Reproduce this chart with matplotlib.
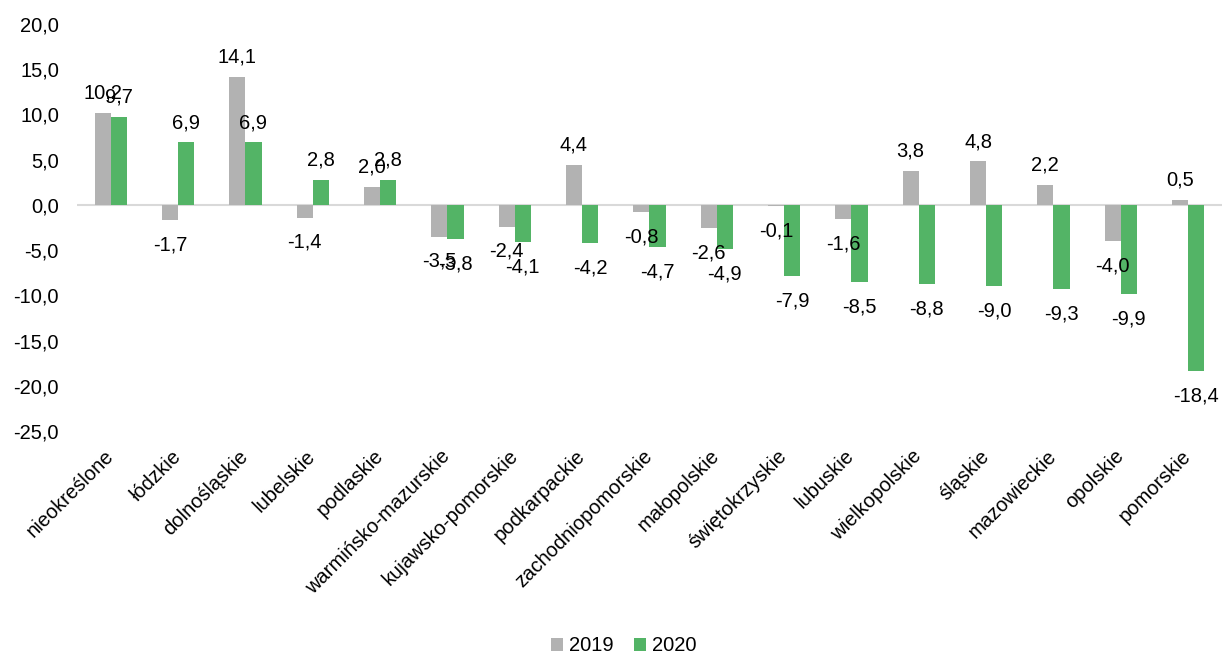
import matplotlib as mpl
mpl.use('agg')
import matplotlib.pyplot as plt
import numpy as np

plt.rcParams['font.family'] = ['Liberation Sans', 'DejaVu Sans']

# Data
regions = ['nieokreślone', 'łódzkie', 'dolnośląskie', 'lubelskie', 'podlaskie',
           'warmińsko-mazurskie', 'kujawsko-pomorskie', 'podkarpackie',
           'zachodniopomorskie', 'małopolskie', 'świętokrzyskie', 'lubuskie',
           'wielkopolskie', 'śląskie', 'mazowieckie', 'opolskie', 'pomorskie']
v2019 = [10.2, -1.7, 14.1, -1.4, 2.0, -3.5, -2.4, 4.4, -0.8, -2.6, -0.1, -1.6,
         3.8, 4.8, 2.2, -4.0, 0.5]
v2020 = [9.7, 6.9, 6.9, 2.8, 2.8, -3.8, -4.1, -4.2, -4.7, -4.9, -7.9, -8.5,
         -8.8, -9.0, -9.3, -9.9, -18.4]
series_names = ['2019', '2020']
yticks = [20, 15, 10, 5, 0, -5, -10, -15, -20, -25]

col19 = '#B2B2B2'
col20 = '#53B466'
fs = 14.5

fig = plt.figure(figsize=(12.23, 6.57), dpi=100)
ax = fig.add_axes([0.063, 0.344, 0.936, 0.6195])

x = np.arange(len(regions))
w = 0.24
b1 = ax.bar(x - w / 2, v2019, w, color=col19, label=series_names[0], zorder=2)
b2 = ax.bar(x + w / 2, v2020, w, color=col20, label=series_names[1], zorder=2)

def fmt(v):
    return f"{v:.1f}".replace('.', ',')

# data labels (outside end, like Excel)
for bars, vals in [(b1, v2019), (b2, v2020)]:
    for rect, v in zip(bars, vals):
        cx = rect.get_x() + rect.get_width() / 2
        if v >= 0:
            ax.annotate(fmt(v), (cx, v), xytext=(0, 7.5), textcoords='offset points',
                        ha='center', va='bottom', fontsize=fs, zorder=3)
        else:
            ax.annotate(fmt(v), (cx, v), xytext=(0, -11), textcoords='offset points',
                        ha='center', va='top', fontsize=fs, zorder=3)

ax.axhline(0, color='#D9D9D9', linewidth=1.5, zorder=1)

ax.set_xlim(-0.5, len(regions) - 0.5)
ax.set_ylim(-25, 20)
ax.set_yticks(yticks)
ax.set_yticklabels([fmt(t) for t in yticks], fontsize=fs)
ax.set_xticks(x)
ax.set_xticklabels(regions, rotation=45, ha='right', va='center',
                   rotation_mode='anchor', fontsize=fs)
ax.tick_params(axis='both', length=0)
ax.tick_params(axis='y', pad=13)
ax.tick_params(axis='x', pad=16)
for s in ax.spines.values():
    s.set_visible(False)

fig.legend(handles=[b1, b2], labels=series_names, loc='lower center',
           bbox_to_anchor=(0.51, -0.025), ncol=2, frameon=False, fontsize=fs,
           handlelength=0.6, handleheight=0.6, handletextpad=0.3, columnspacing=1.0)

fig.savefig('out.png', dpi=100)
